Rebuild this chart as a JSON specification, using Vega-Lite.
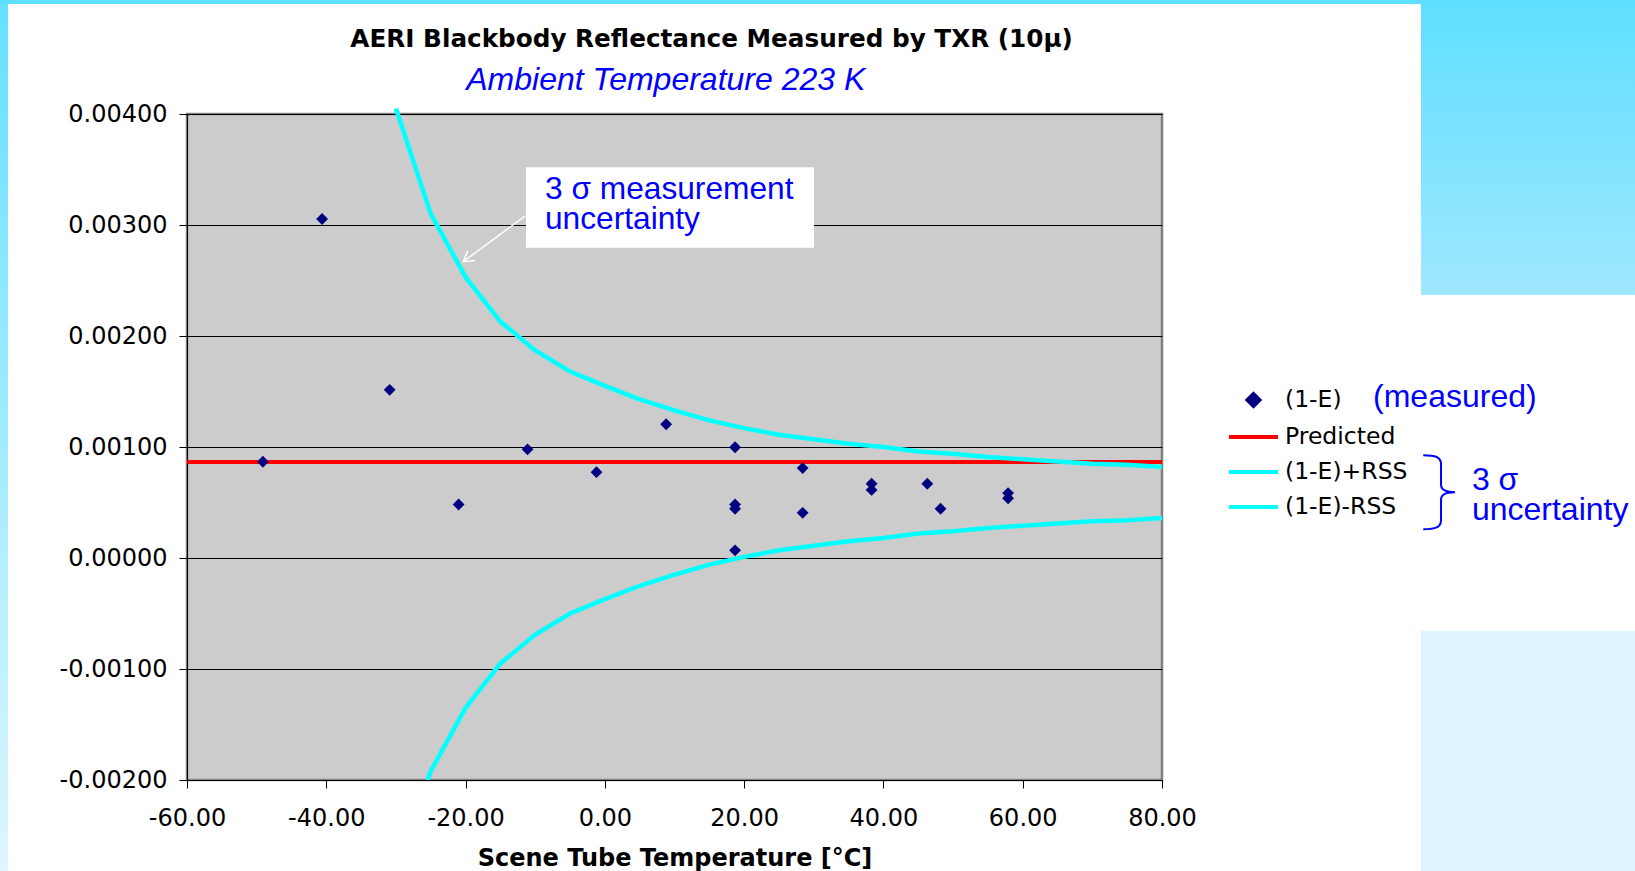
{
  "$schema": "https://vega.github.io/schema/vega-lite/v6.json",
  "width": 975,
  "height": 666,
  "autosize": {"type": "none"},
  "padding": {"left": 187, "top": 114, "right": 473, "bottom": 91},
  "background": "#FFFFFF",
  "config": {
    "view": {"fill": "#CCCCCC", "stroke": "#808080", "strokeWidth": 2.5},
    "font": "DejaVu Sans"
  },
  "datasets": {
    "measured": [
      {"T": -49.1, "E": 0.000867, "series": "(1-E)"},
      {"T": -40.6, "E": 0.003054, "series": "(1-E)"},
      {"T": -30.9, "E": 0.001515, "series": "(1-E)"},
      {"T": -21.0, "E": 0.000482, "series": "(1-E)"},
      {"T": -11.1, "E": 0.000979, "series": "(1-E)"},
      {"T": -1.2, "E": 0.000773, "series": "(1-E)"},
      {"T": 8.8, "E": 0.001205, "series": "(1-E)"},
      {"T": 18.7, "E": 0.000998, "series": "(1-E)"},
      {"T": 18.7, "E": 0.000482, "series": "(1-E)"},
      {"T": 18.7, "E": 0.000444, "series": "(1-E)"},
      {"T": 18.7, "E": 0.000069, "series": "(1-E)"},
      {"T": 28.4, "E": 0.00081, "series": "(1-E)"},
      {"T": 28.4, "E": 0.000407, "series": "(1-E)"},
      {"T": 38.3, "E": 0.000669, "series": "(1-E)"},
      {"T": 38.3, "E": 0.000613, "series": "(1-E)"},
      {"T": 46.3, "E": 0.000669, "series": "(1-E)"},
      {"T": 48.2, "E": 0.000444, "series": "(1-E)"},
      {"T": 57.9, "E": 0.000585, "series": "(1-E)"},
      {"T": 57.9, "E": 0.000538, "series": "(1-E)"}
    ],
    "curves": [
      {"T": -60, "v": 0.000865, "series": "Predicted"},
      {"T": 80, "v": 0.000865, "series": "Predicted"},
      {"T": -30, "v": 0.00405, "series": "(1-E)+RSS"},
      {"T": -25, "v": 0.00310, "series": "(1-E)+RSS"},
      {"T": -20, "v": 0.00253, "series": "(1-E)+RSS"},
      {"T": -15, "v": 0.00213, "series": "(1-E)+RSS"},
      {"T": -10, "v": 0.00187, "series": "(1-E)+RSS"},
      {"T": -5, "v": 0.00168, "series": "(1-E)+RSS"},
      {"T": 0, "v": 0.00155, "series": "(1-E)+RSS"},
      {"T": 5, "v": 0.00143, "series": "(1-E)+RSS"},
      {"T": 10, "v": 0.00133, "series": "(1-E)+RSS"},
      {"T": 15, "v": 0.00124, "series": "(1-E)+RSS"},
      {"T": 20, "v": 0.00117, "series": "(1-E)+RSS"},
      {"T": 25, "v": 0.00111, "series": "(1-E)+RSS"},
      {"T": 30, "v": 0.00107, "series": "(1-E)+RSS"},
      {"T": 35, "v": 0.00103, "series": "(1-E)+RSS"},
      {"T": 40, "v": 0.00100, "series": "(1-E)+RSS"},
      {"T": 45, "v": 0.00096, "series": "(1-E)+RSS"},
      {"T": 50, "v": 0.00094, "series": "(1-E)+RSS"},
      {"T": 55, "v": 0.00091, "series": "(1-E)+RSS"},
      {"T": 60, "v": 0.00089, "series": "(1-E)+RSS"},
      {"T": 65, "v": 0.00087, "series": "(1-E)+RSS"},
      {"T": 70, "v": 0.00085, "series": "(1-E)+RSS"},
      {"T": 75, "v": 0.00084, "series": "(1-E)+RSS"},
      {"T": 80, "v": 0.00082, "series": "(1-E)+RSS"},
      {"T": -30, "v": -0.00287, "series": "(1-E)-RSS"},
      {"T": -25, "v": -0.00192, "series": "(1-E)-RSS"},
      {"T": -20, "v": -0.00135, "series": "(1-E)-RSS"},
      {"T": -15, "v": -0.00095, "series": "(1-E)-RSS"},
      {"T": -10, "v": -0.00069, "series": "(1-E)-RSS"},
      {"T": -5, "v": -0.00050, "series": "(1-E)-RSS"},
      {"T": 0, "v": -0.00037, "series": "(1-E)-RSS"},
      {"T": 5, "v": -0.00025, "series": "(1-E)-RSS"},
      {"T": 10, "v": -0.00015, "series": "(1-E)-RSS"},
      {"T": 15, "v": -0.00006, "series": "(1-E)-RSS"},
      {"T": 20, "v": 0.00001, "series": "(1-E)-RSS"},
      {"T": 25, "v": 0.00007, "series": "(1-E)-RSS"},
      {"T": 30, "v": 0.00011, "series": "(1-E)-RSS"},
      {"T": 35, "v": 0.00015, "series": "(1-E)-RSS"},
      {"T": 40, "v": 0.00018, "series": "(1-E)-RSS"},
      {"T": 45, "v": 0.00022, "series": "(1-E)-RSS"},
      {"T": 50, "v": 0.00024, "series": "(1-E)-RSS"},
      {"T": 55, "v": 0.00027, "series": "(1-E)-RSS"},
      {"T": 60, "v": 0.00029, "series": "(1-E)-RSS"},
      {"T": 65, "v": 0.00031, "series": "(1-E)-RSS"},
      {"T": 70, "v": 0.00033, "series": "(1-E)-RSS"},
      {"T": 75, "v": 0.00034, "series": "(1-E)-RSS"},
      {"T": 80, "v": 0.00036, "series": "(1-E)-RSS"}
    ]
  },
  "layer": [
    {
      "data": {"values": [{}]},
      "mark": {"type": "rect", "fill": {"gradient": "linear", "x1": 0, "y1": 0, "x2": 0, "y2": 1, "stops": [{"offset": 0, "color": "#5EDFFF"}, {"offset": 1, "color": "#E8F8FF"}]}},
      "encoding": {
        "x": {"datum": -95, "type": "quantitative", "scale": {"domain": [-60, 80], "nice": false, "zero": false}},
        "x2": {"datum": -85.7},
        "y": {"datum": 0.0055, "type": "quantitative", "scale": {"domain": [-0.002, 0.004], "nice": false, "zero": false}},
        "y2": {"datum": -0.0035}
      }
    },
    {
      "data": {"values": [{}]},
      "mark": {"type": "rect", "fill": "#5EDFFF"},
      "encoding": {
        "x": {"datum": -95, "type": "quantitative", "scale": {"domain": [-60, 80], "nice": false, "zero": false}},
        "x2": {"datum": 155},
        "y": {"datum": 0.0055, "type": "quantitative", "scale": {"domain": [-0.002, 0.004], "nice": false, "zero": false}},
        "y2": {"datum": 0.004991}
      }
    },
    {
      "data": {"values": [{}]},
      "mark": {"type": "rect", "fill": {"gradient": "linear", "x1": 0, "y1": 0, "x2": 0, "y2": 1, "stops": [{"offset": 0, "color": "#5EDFFF"}, {"offset": 1, "color": "#9FE7FF"}]}},
      "encoding": {
        "x": {"datum": 117.19, "type": "quantitative", "scale": {"domain": [-60, 80], "nice": false, "zero": false}},
        "x2": {"datum": 155},
        "y": {"datum": 0.005027, "type": "quantitative", "scale": {"domain": [-0.002, 0.004], "nice": false, "zero": false}},
        "y2": {"datum": 0.002369}
      }
    },
    {
      "data": {"values": [{}]},
      "mark": {"type": "rect", "fill": "#DDF3FF"},
      "encoding": {
        "x": {"datum": 117.19, "type": "quantitative", "scale": {"domain": [-60, 80], "nice": false, "zero": false}},
        "x2": {"datum": 155},
        "y": {"datum": -0.000658, "type": "quantitative", "scale": {"domain": [-0.002, 0.004], "nice": false, "zero": false}},
        "y2": {"datum": -0.0035}
      }
    },
    {
      "data": {"name": "curves"},
      "transform": [{"filter": "datum.series === 'Predicted'"}],
      "mark": {"type": "line", "strokeWidth": 4},
      "encoding": {
        "x": {"field": "T", "type": "quantitative", "scale": {"domain": [-60, 80], "nice": false, "zero": false},
          "axis": {"values": [-60, -40, -20, 0, 20, 40, 60, 80], "labelExpr": "replace(format(datum.value, '.2f'), '\u2212', '-')", "grid": false, "domainColor": "#000000", "domainWidth": 1, "tickColor": "#000000", "tickSize": 8, "tickWidth": 1, "labelFont": "DejaVu Sans", "labelFontSize": 24, "labelColor": "#000000", "labelPadding": 18, "labelFlush": false, "labelOverlap": false, "title": "Scene Tube Temperature [°C]", "titleFont": "DejaVu Sans", "titleFontSize": 24, "titleFontWeight": "bold", "titleColor": "#000000", "titleBaseline": "alphabetic", "titleY": 85}},
        "y": {"field": "v", "type": "quantitative", "scale": {"domain": [-0.002, 0.004], "nice": false, "zero": false},
          "axis": {"values": [-0.002, -0.001, 0, 0.001, 0.002, 0.003, 0.004], "labelExpr": "replace(format(datum.value, '.5f'), '\u2212', '-')", "grid": true, "gridColor": "#000000", "gridWidth": 1, "gridOpacity": 1, "domainColor": "#000000", "domainWidth": 1, "tickColor": "#000000", "tickSize": 8, "tickWidth": 1, "labelFont": "DejaVu Sans", "labelFontSize": 24, "labelColor": "#000000", "labelPadding": 12, "labelFlush": false, "labelOverlap": false, "title": null}},
        "color": {"field": "series", "type": "nominal",
          "scale": {"domain": ["(1-E)", "Predicted", "(1-E)+RSS", "(1-E)-RSS"], "range": ["#000080", "#FF0000", "#00FFFF", "#00FFFF"]},
          "legend": {"title": null, "orient": "none", "legendX": 1054.5, "legendY": 274, "padding": 0, "labelFont": "DejaVu Sans", "labelFontSize": 23.5, "labelColor": "#000000", "labelLimit": 400, "symbolSize": 400, "labelOffset": 19.5, "rowPadding": 11,
            "encode": {"symbols": {"update": {
              "shape": {"signal": "datum.value === '(1-E)' ? 'diamond' : 'M-2.45,0H2.45'"},
              "size": {"signal": "datum.value === '(1-E)' ? 140 : 400"},
              "fill": {"signal": "datum.value === '(1-E)' ? '#000080' : 'transparent'"},
              "stroke": {"signal": "datum.value === '(1-E)' ? 'transparent' : (datum.value === 'Predicted' ? '#FF0000' : '#00FFFF')"},
              "strokeWidth": {"value": 4},
              "opacity": {"value": 1}
            }}}
          }}
      }
    },
    {
      "data": {"name": "curves"},
      "transform": [{"filter": "datum.series === '(1-E)+RSS'"}],
      "mark": {"type": "line", "strokeWidth": 4.5},
      "encoding": {
        "x": {"field": "T", "type": "quantitative", "scale": {"domain": [-60, 80], "nice": false, "zero": false}},
        "y": {"field": "v", "type": "quantitative", "scale": {"domain": [-0.002, 0.004], "nice": false, "zero": false}},
        "color": {"field": "series", "type": "nominal", "scale": {"domain": ["(1-E)", "Predicted", "(1-E)+RSS", "(1-E)-RSS"], "range": ["#000080", "#FF0000", "#00FFFF", "#00FFFF"]}}
      }
    },
    {
      "data": {"name": "curves"},
      "transform": [{"filter": "datum.series === '(1-E)-RSS'"}],
      "mark": {"type": "line", "strokeWidth": 4.5, "clip": true},
      "encoding": {
        "x": {"field": "T", "type": "quantitative", "scale": {"domain": [-60, 80], "nice": false, "zero": false}},
        "y": {"field": "v", "type": "quantitative", "scale": {"domain": [-0.002, 0.004], "nice": false, "zero": false}},
        "color": {"field": "series", "type": "nominal", "scale": {"domain": ["(1-E)", "Predicted", "(1-E)+RSS", "(1-E)-RSS"], "range": ["#000080", "#FF0000", "#00FFFF", "#00FFFF"]}}
      }
    },
    {
      "data": {"name": "measured"},
      "mark": {"type": "point", "shape": "diamond", "filled": true, "size": 140, "opacity": 1},
      "encoding": {
        "x": {"field": "T", "type": "quantitative", "scale": {"domain": [-60, 80], "nice": false, "zero": false}},
        "y": {"field": "E", "type": "quantitative", "scale": {"domain": [-0.002, 0.004], "nice": false, "zero": false}},
        "color": {"field": "series", "type": "nominal", "scale": {"domain": ["(1-E)", "Predicted", "(1-E)+RSS", "(1-E)-RSS"], "range": ["#000080", "#FF0000", "#00FFFF", "#00FFFF"]}}
      }
    },
    {
      "data": {"values": [{}]},
      "mark": {"type": "rect", "fill": "#FFFFFF"},
      "encoding": {
        "x": {"datum": -11.32, "type": "quantitative", "scale": {"domain": [-60, 80], "nice": false, "zero": false}},
        "x2": {"datum": 30.03},
        "y": {"datum": 0.00352, "type": "quantitative", "scale": {"domain": [-0.002, 0.004], "nice": false, "zero": false}},
        "y2": {"datum": 0.0027955}
      }
    },
    {
      "data": {"values": [{}]},
      "mark": {"type": "rule", "stroke": "#FFFFFF", "strokeWidth": 1.5},
      "encoding": {
        "x": {"datum": -11.46, "type": "quantitative", "scale": {"domain": [-60, 80], "nice": false, "zero": false}},
        "x2": {"datum": -20.33},
        "y": {"datum": 0.003081, "type": "quantitative", "scale": {"domain": [-0.002, 0.004], "nice": false, "zero": false}},
        "y2": {"datum": 0.00267}
      }
    },
    {
      "data": {"values": [{}]},
      "mark": {"type": "point", "shape": "M-0.6,1L0,0L0.6,1", "filled": false, "stroke": "#FFFFFF", "strokeWidth": 1.5, "size": 400, "angle": 233.5, "opacity": 1},
      "encoding": {
        "x": {"datum": -20.33, "type": "quantitative", "scale": {"domain": [-60, 80], "nice": false, "zero": false}},
        "y": {"datum": 0.00267, "type": "quantitative", "scale": {"domain": [-0.002, 0.004], "nice": false, "zero": false}}
      }
    },
    {
      "data": {"values": [{}]},
      "mark": {"type": "text", "font": "Liberation Sans", "fontSize": 31.7, "fill": "#0000FF", "align": "left", "baseline": "alphabetic"},
      "encoding": {
        "x": {"datum": -8.6, "type": "quantitative", "scale": {"domain": [-60, 80], "nice": false, "zero": false}},
        "y": {"datum": 0.003232, "type": "quantitative", "scale": {"domain": [-0.002, 0.004], "nice": false, "zero": false}},
        "text": {"value": "3 σ measurement"}
      }
    },
    {
      "data": {"values": [{}]},
      "mark": {"type": "text", "font": "Liberation Sans", "fontSize": 31.7, "fill": "#0000FF", "align": "left", "baseline": "alphabetic"},
      "encoding": {
        "x": {"datum": -8.6, "type": "quantitative", "scale": {"domain": [-60, 80], "nice": false, "zero": false}},
        "y": {"datum": 0.002961, "type": "quantitative", "scale": {"domain": [-0.002, 0.004], "nice": false, "zero": false}},
        "text": {"value": "uncertainty"}
      }
    },
    {
      "data": {"values": [{}]},
      "mark": {"type": "text", "font": "DejaVu Sans", "fontSize": 24.7, "fontWeight": "bold", "fill": "#000000", "align": "center", "baseline": "alphabetic"},
      "encoding": {
        "x": {"datum": 15.33, "type": "quantitative", "scale": {"domain": [-60, 80], "nice": false, "zero": false}},
        "y": {"datum": 0.004604, "type": "quantitative", "scale": {"domain": [-0.002, 0.004], "nice": false, "zero": false}},
        "text": {"value": "AERI Blackbody Reflectance Measured by TXR (10μ)"}
      }
    },
    {
      "data": {"values": [{}]},
      "mark": {"type": "text", "font": "Liberation Sans", "fontSize": 32, "fontStyle": "italic", "fill": "#0000FF", "align": "center", "baseline": "alphabetic"},
      "encoding": {
        "x": {"datum": 8.75, "type": "quantitative", "scale": {"domain": [-60, 80], "nice": false, "zero": false}},
        "y": {"datum": 0.004219, "type": "quantitative", "scale": {"domain": [-0.002, 0.004], "nice": false, "zero": false}},
        "text": {"value": "Ambient Temperature 223 K"}
      }
    },
    {
      "data": {"values": [{}]},
      "mark": {"type": "text", "font": "Liberation Sans", "fontSize": 32, "fill": "#0000FF", "align": "left", "baseline": "alphabetic"},
      "encoding": {
        "x": {"datum": 110.3, "type": "quantitative", "scale": {"domain": [-60, 80], "nice": false, "zero": false}},
        "y": {"datum": 0.001363, "type": "quantitative", "scale": {"domain": [-0.002, 0.004], "nice": false, "zero": false}},
        "text": {"value": "(measured)"}
      }
    },
    {
      "data": {"values": [{}]},
      "mark": {"type": "text", "font": "Liberation Sans", "fontSize": 32, "fill": "#0000FF", "align": "left", "baseline": "alphabetic"},
      "encoding": {
        "x": {"datum": 124.5, "type": "quantitative", "scale": {"domain": [-60, 80], "nice": false, "zero": false}},
        "y": {"datum": 0.000613, "type": "quantitative", "scale": {"domain": [-0.002, 0.004], "nice": false, "zero": false}},
        "text": {"value": "3 σ"}
      }
    },
    {
      "data": {"values": [{}]},
      "mark": {"type": "text", "font": "Liberation Sans", "fontSize": 32, "fill": "#0000FF", "align": "left", "baseline": "alphabetic"},
      "encoding": {
        "x": {"datum": 124.5, "type": "quantitative", "scale": {"domain": [-60, 80], "nice": false, "zero": false}},
        "y": {"datum": 0.000342, "type": "quantitative", "scale": {"domain": [-0.002, 0.004], "nice": false, "zero": false}},
        "text": {"value": "uncertainty"}
      }
    },
    {
      "data": {"values": [{}]},
      "mark": {"type": "point", "shape": "M-0.43,-1C-0.1,-1 0.05,-0.95 0.05,-0.75L0.05,-0.2C0.05,-0.05 0.2,0 0.43,0C0.2,0 0.05,0.05 0.05,0.2L0.05,0.75C0.05,0.95 -0.1,1 -0.43,1", "filled": false, "stroke": "#0000FF", "strokeWidth": 2, "size": 5476, "opacity": 1},
      "encoding": {
        "x": {"datum": 119.8, "type": "quantitative", "scale": {"domain": [-60, 80], "nice": false, "zero": false}},
        "y": {"datum": 0.000593, "type": "quantitative", "scale": {"domain": [-0.002, 0.004], "nice": false, "zero": false}}
      }
    }
  ]
}
